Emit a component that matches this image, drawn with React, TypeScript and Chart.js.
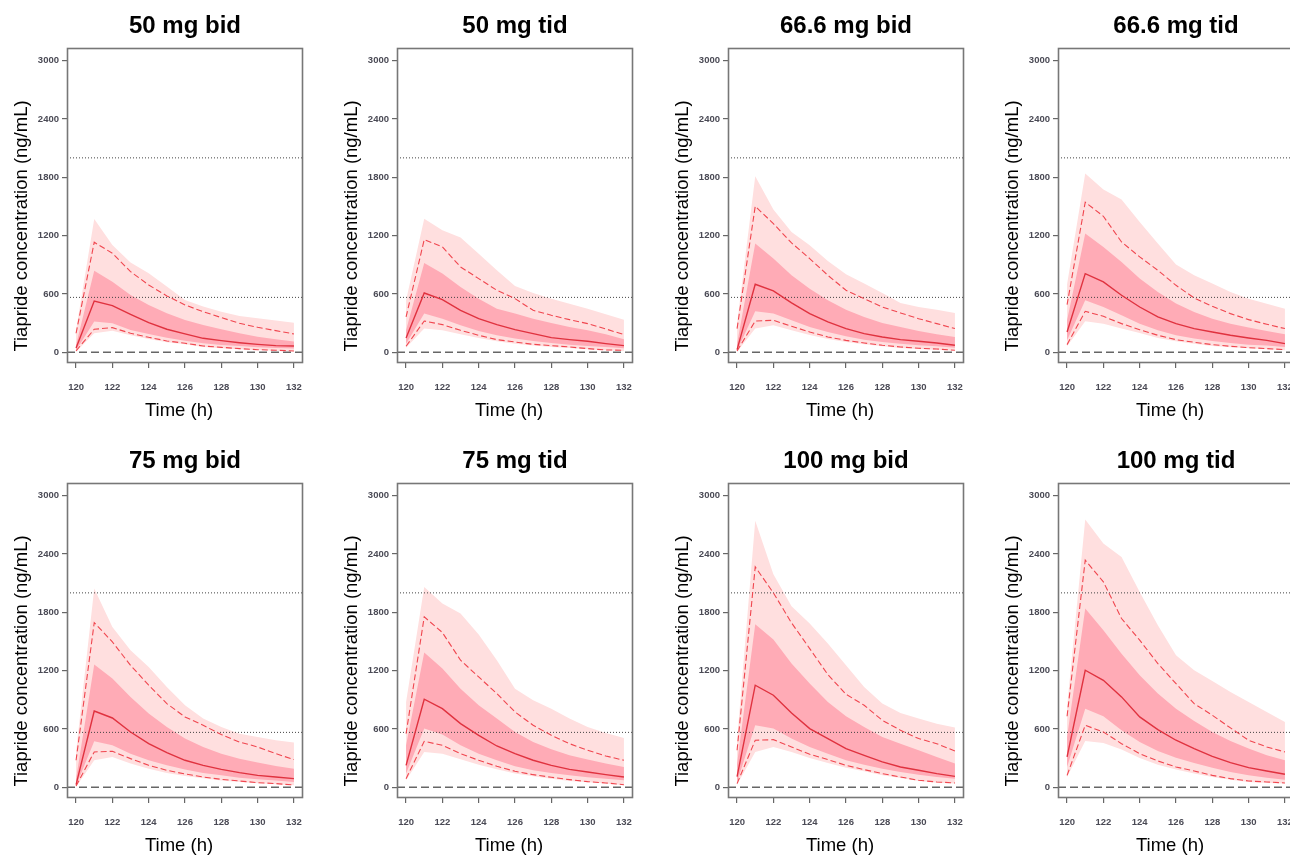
import React, { useEffect, useRef } from "react";
import { Chart, registerables } from "chart.js";

Chart.register(...registerables);

// ---------- shared axes ----------
const times = [120, 121, 122, 123, 124, 125, 126, 127, 128, 129, 130, 131, 132];
const xTickValues = [120, 122, 124, 126, 128, 130, 132];
const yTickValues = [0, 600, 1200, 1800, 2400, 3000];
const dottedRefLevels = [2000, 565];
const dashedRefLevel = 0;
const xTitle = "Time (h)";
const yTitle = "Tiapride concentration (ng/mL)";

// ---------- 50 mg bid ----------
const bid50OuterUp = [230, 1372, 1104, 923, 813, 676, 539, 470, 418, 374, 350, 326, 305];
const bid50DashUp = [196, 1132, 1019, 830, 693, 580, 487, 418, 357, 298, 257, 223, 189];
const bid50InnerUp = [75, 840, 727, 590, 487, 401, 333, 281, 237, 196, 161, 134, 110];
const bid50Median = [45, 528, 480, 391, 305, 237, 189, 144, 120, 99, 82, 69, 65];
const bid50InnerLo = [20, 316, 298, 230, 189, 151, 120, 93, 75, 65, 51, 45, 38];
const bid50DashLo = [15, 237, 254, 196, 154, 117, 93, 65, 51, 38, 27, 21, 14];
const bid50OuterLo = [5, 196, 223, 175, 137, 103, 82, 55, 41, 31, 24, 17, 10];

// ---------- 50 mg tid ----------
const tid50OuterUp = [535, 1375, 1255, 1180, 1015, 844, 683, 610, 552, 500, 449, 391, 336];
const tid50DashUp = [364, 1159, 1084, 878, 758, 638, 552, 432, 381, 336, 295, 240, 182];
const tid50InnerUp = [226, 919, 810, 672, 552, 449, 398, 346, 302, 260, 226, 185, 135];
const tid50Median = [147, 610, 542, 432, 346, 285, 233, 192, 151, 130, 113, 89, 69];
const tid50InnerLo = [89, 398, 346, 278, 220, 175, 141, 117, 96, 79, 65, 55, 41];
const tid50DashLo = [62, 322, 285, 226, 175, 130, 106, 82, 69, 55, 38, 24, 21];
const tid50OuterLo = [48, 244, 226, 185, 147, 113, 89, 69, 55, 45, 31, 21, 14];

// ---------- 66.6 mg bid ----------
const bid66OuterUp = [295, 1811, 1468, 1238, 1101, 940, 803, 707, 610, 508, 466, 439, 405];
const bid66DashUp = [244, 1502, 1324, 1125, 964, 792, 638, 552, 466, 405, 346, 295, 244];
const bid66InnerUp = [89, 1118, 964, 792, 655, 535, 439, 364, 302, 261, 220, 185, 158];
const bid66Median = [27, 700, 631, 508, 398, 312, 244, 192, 158, 130, 113, 96, 72];
const bid66InnerLo = [18, 422, 398, 329, 261, 209, 165, 130, 106, 89, 72, 62, 48];
const bid66DashLo = [14, 322, 329, 268, 209, 158, 123, 96, 72, 55, 41, 34, 21];
const bid66OuterLo = [6, 244, 278, 226, 178, 137, 106, 82, 62, 45, 34, 27, 17];

// ---------- 66.6 mg tid ----------
const tid66OuterUp = [700, 1838, 1674, 1571, 1341, 1118, 902, 792, 707, 621, 552, 500, 449];
const tid66DashUp = [490, 1544, 1399, 1135, 981, 844, 689, 559, 473, 398, 336, 288, 244];
const tid66InnerUp = [329, 1221, 1084, 930, 758, 621, 501, 415, 346, 295, 254, 220, 185];
const tid66Median = [209, 809, 724, 587, 466, 364, 295, 244, 209, 175, 147, 123, 89];
const tid66InnerLo = [123, 535, 466, 381, 295, 226, 175, 141, 117, 96, 79, 69, 55];
const tid66DashLo = [79, 422, 370, 295, 233, 175, 130, 103, 79, 62, 48, 38, 27];
const tid66OuterLo = [62, 319, 295, 244, 199, 147, 113, 89, 65, 51, 41, 31, 21];

// ---------- 75 mg bid ----------
const bid75OuterUp = [364, 2044, 1650, 1410, 1238, 1032, 844, 707, 621, 552, 518, 484, 460];
const bid75DashUp = [278, 1694, 1495, 1255, 1050, 861, 724, 638, 542, 466, 415, 346, 285];
const bid75InnerUp = [89, 1262, 1118, 930, 758, 621, 501, 415, 346, 295, 254, 220, 192];
const bid75Median = [27, 785, 713, 569, 449, 357, 278, 226, 185, 151, 123, 106, 89];
const bid75InnerLo = [18, 473, 432, 346, 278, 226, 182, 147, 123, 99, 82, 69, 55];
const bid75DashLo = [14, 364, 370, 295, 226, 175, 137, 106, 82, 65, 48, 38, 24];
const bid75OuterLo = [6, 278, 312, 244, 192, 147, 117, 93, 69, 55, 41, 31, 21];

// ---------- 75 mg tid ----------
const tid75OuterUp = [878, 2061, 1890, 1787, 1571, 1307, 1015, 895, 809, 707, 621, 559, 508];
const tid75DashUp = [552, 1753, 1592, 1307, 1135, 964, 775, 638, 535, 449, 381, 322, 278];
const tid75InnerUp = [432, 1386, 1221, 1015, 844, 707, 569, 466, 391, 329, 285, 244, 209];
const tid75Median = [226, 906, 809, 655, 535, 425, 346, 278, 226, 185, 158, 130, 106];
const tid75InnerLo = [141, 604, 542, 432, 346, 278, 216, 175, 147, 123, 103, 89, 72];
const tid75DashLo = [89, 473, 432, 346, 278, 216, 165, 130, 103, 79, 58, 45, 27];
const tid75OuterLo = [72, 364, 346, 288, 233, 185, 141, 113, 89, 65, 51, 38, 21];

// ---------- 100 mg bid ----------
const bid100OuterUp = [484, 2741, 2192, 1862, 1684, 1478, 1255, 1032, 861, 765, 707, 655, 614];
const bid100DashUp = [381, 2267, 2000, 1691, 1427, 1159, 957, 844, 689, 587, 501, 449, 374];
const bid100InnerUp = [243, 1677, 1520, 1273, 1067, 878, 731, 621, 518, 449, 381, 312, 244];
const bid100Median = [110, 1050, 947, 765, 604, 501, 398, 329, 261, 209, 175, 141, 113];
const bid100InnerLo = [55, 638, 604, 501, 415, 346, 278, 233, 192, 158, 130, 106, 89];
const bid100DashLo = [38, 484, 490, 415, 340, 285, 226, 182, 141, 106, 72, 55, 45];
const bid100OuterLo = [27, 364, 415, 364, 302, 250, 202, 165, 123, 96, 65, 48, 38];

// ---------- 100 mg tid ----------
const tid100OuterUp = [827, 2754, 2507, 2370, 2010, 1667, 1358, 1204, 1094, 981, 878, 775, 672];
const tid100DashUp = [731, 2336, 2113, 1736, 1513, 1273, 1067, 861, 741, 611, 484, 415, 364];
const tid100InnerUp = [518, 1838, 1616, 1375, 1152, 964, 809, 683, 569, 477, 398, 329, 278];
const tid100Median = [312, 1204, 1101, 930, 724, 593, 484, 398, 319, 254, 202, 168, 134];
const tid100InnerLo = [209, 809, 731, 587, 466, 374, 305, 250, 202, 158, 123, 99, 79];
const tid100DashLo = [123, 638, 569, 449, 346, 271, 209, 168, 123, 89, 65, 55, 45];
const tid100OuterLo = [106, 477, 456, 388, 302, 233, 182, 141, 106, 79, 55, 45, 38];

type PanelData = {
  title: string;
  outerUp: number[];
  dashUp: number[];
  innerUp: number[];
  median: number[];
  innerLo: number[];
  dashLo: number[];
  outerLo: number[];
};

const panels: PanelData[] = [
  { title: "50 mg bid", outerUp: bid50OuterUp, dashUp: bid50DashUp, innerUp: bid50InnerUp, median: bid50Median, innerLo: bid50InnerLo, dashLo: bid50DashLo, outerLo: bid50OuterLo },
  { title: "50 mg tid", outerUp: tid50OuterUp, dashUp: tid50DashUp, innerUp: tid50InnerUp, median: tid50Median, innerLo: tid50InnerLo, dashLo: tid50DashLo, outerLo: tid50OuterLo },
  { title: "66.6 mg bid", outerUp: bid66OuterUp, dashUp: bid66DashUp, innerUp: bid66InnerUp, median: bid66Median, innerLo: bid66InnerLo, dashLo: bid66DashLo, outerLo: bid66OuterLo },
  { title: "66.6 mg tid", outerUp: tid66OuterUp, dashUp: tid66DashUp, innerUp: tid66InnerUp, median: tid66Median, innerLo: tid66InnerLo, dashLo: tid66DashLo, outerLo: tid66OuterLo },
  { title: "75 mg bid", outerUp: bid75OuterUp, dashUp: bid75DashUp, innerUp: bid75InnerUp, median: bid75Median, innerLo: bid75InnerLo, dashLo: bid75DashLo, outerLo: bid75OuterLo },
  { title: "75 mg tid", outerUp: tid75OuterUp, dashUp: tid75DashUp, innerUp: tid75InnerUp, median: tid75Median, innerLo: tid75InnerLo, dashLo: tid75DashLo, outerLo: tid75OuterLo },
  { title: "100 mg bid", outerUp: bid100OuterUp, dashUp: bid100DashUp, innerUp: bid100InnerUp, median: bid100Median, innerLo: bid100InnerLo, dashLo: bid100DashLo, outerLo: bid100OuterLo },
  { title: "100 mg tid", outerUp: tid100OuterUp, dashUp: tid100DashUp, innerUp: tid100InnerUp, median: tid100Median, innerLo: tid100InnerLo, dashLo: tid100DashLo, outerLo: tid100OuterLo },
];

const FONT = '"Liberation Sans", Arial, Helvetica, sans-serif';
const OUTER_FILL = "#FFDFDF";
const INNER_FILL = "#FFABB6";
const MEDIAN_COLOR = "#E0323F";
const DASH_COLOR = "#F0464F";
const REF_COLOR = "#444444";

const CANVAS_W = 330;
const CANVAS_H = 430;
const colLefts = [1, 331, 662, 992];
const rowTops = [0, 435];

const X_MIN = 119.5;
const X_MAX = 132.5;
const Y_MIN = -110;
const Y_MAX = 3130;

const pts = (vals: number[]) => vals.map((v, i) => ({ x: times[i], y: v }));
const flat = (level: number) => [
  { x: X_MIN, y: level },
  { x: X_MAX, y: level },
];

const framePlugin = {
  id: "panelFrame",
  afterDatasetsDraw(chart: any) {
    const { ctx, chartArea } = chart;
    ctx.save();
    ctx.strokeStyle = "#777777";
    ctx.lineWidth = 1.6;
    ctx.strokeRect(
      chartArea.left + 0.5,
      chartArea.top + 0.5,
      chartArea.right - chartArea.left - 1,
      chartArea.bottom - chartArea.top - 1
    );
    ctx.restore();
  },
};

const axisTitlePlugin = {
  id: "axisTitles",
  afterDraw(chart: any) {
    const { ctx, chartArea } = chart;
    ctx.save();
    ctx.fillStyle = "#000";
    ctx.font = `18.5px ${FONT}`;
    ctx.textAlign = "center";
    ctx.textBaseline = "middle";
    ctx.fillText(xTitle, (chartArea.left + chartArea.right) / 2 - 6, chartArea.bottom + 47.5);
    ctx.translate(21, chartArea.top + 178);
    ctx.rotate(-Math.PI / 2);
    ctx.fillText(yTitle, 0, 0);
    ctx.restore();
  },
};

function buildConfig(p: PanelData): any {
  const band = (data: number[], color: string, fill: any, order: number) => ({
    data: pts(data),
    borderWidth: 0,
    borderColor: "transparent",
    backgroundColor: color,
    fill,
    pointRadius: 0,
    order,
  });
  const line = (data: any[], color: string, width: number, dash: number[], order: number) => ({
    data,
    borderColor: color,
    borderWidth: width,
    borderDash: dash,
    fill: false,
    pointRadius: 0,
    order,
  });
  return {
    type: "line",
    data: {
      datasets: [
        band(p.outerLo, OUTER_FILL, false, 20),
        band(p.outerUp, OUTER_FILL, "-1", 20),
        band(p.innerLo, INNER_FILL, false, 15),
        band(p.innerUp, INNER_FILL, "-1", 15),
        line(flat(dottedRefLevels[0]), REF_COLOR, 1, [1, 2], 8),
        line(flat(dottedRefLevels[1]), REF_COLOR, 1, [1, 2], 8),
        line(flat(dashedRefLevel), "#666666", 1.5, [8, 4], 8),
        line(pts(p.dashUp), DASH_COLOR, 1.1, [6, 3], 3),
        line(pts(p.dashLo), DASH_COLOR, 1.1, [6, 3], 3),
        line(pts(p.median), MEDIAN_COLOR, 1.4, [], 1),
      ],
    },
    options: {
      animation: false,
      responsive: false,
      maintainAspectRatio: false,
      events: [],
      layout: { padding: { left: 0, right: 28, top: 0, bottom: 0 } },
      elements: { line: { tension: 0 }, point: { radius: 0 } },
      plugins: {
        legend: { display: false },
        tooltip: { enabled: false },
        title: {
          display: true,
          text: p.title,
          fullSize: false,
          color: "#000",
          font: { family: FONT, size: 24, weight: "bold", lineHeight: 1.2 },
          padding: { top: 11.7, bottom: 7.5 },
        },
      },
      scales: {
        x: {
          type: "linear",
          min: X_MIN,
          max: X_MAX,
          afterBuildTicks: (s: any) => {
            s.ticks = xTickValues.map((v) => ({ value: v }));
          },
          afterFit: (s: any) => {
            s.height = 67;
          },
          grid: { drawOnChartArea: false, drawTicks: true, tickLength: 5, color: "#666", lineWidth: 1.2 },
          border: { display: false },
          ticks: {
            padding: 14,
            autoSkip: false,
            maxRotation: 0,
            color: "#4a4a55",
            font: { family: FONT, size: 9.5, weight: "bold" },
            callback: (v: any) => String(v),
          },
        },
        y: {
          type: "linear",
          min: Y_MIN,
          max: Y_MAX,
          afterBuildTicks: (s: any) => {
            s.ticks = yTickValues.map((v) => ({ value: v }));
          },
          afterFit: (s: any) => {
            s.width = 66;
          },
          grid: { drawOnChartArea: false, drawTicks: true, tickLength: 5, color: "#666", lineWidth: 1.2 },
          border: { display: false },
          ticks: {
            padding: 3,
            autoSkip: false,
            color: "#4a4a55",
            font: { family: FONT, size: 9.5, weight: "bold" },
            callback: (v: any) => String(v),
          },
        },
      },
    },
    plugins: [framePlugin, axisTitlePlugin],
  };
}

function Panel({ p, left, top }: { p: PanelData; left: number; top: number }) {
  const ref = useRef<HTMLCanvasElement>(null);
  useEffect(() => {
    if (!ref.current) return;
    const chart = new Chart(ref.current, buildConfig(p));
    return () => chart.destroy();
  }, [p]);
  return (
    <canvas
      ref={ref}
      width={CANVAS_W}
      height={CANVAS_H}
      style={{ position: "absolute", left, top, width: CANVAS_W, height: CANVAS_H }}
    />
  );
}

export default function App() {
  return (
    <div
      style={{
        position: "absolute",
        left: 0,
        top: 0,
        width: 1290,
        height: 858,
        overflow: "hidden",
        background: "#fff",
      }}
    >
      {panels.map((p, i) => (
        <Panel key={p.title} p={p} left={colLefts[i % 4]} top={rowTops[Math.floor(i / 4)]} />
      ))}
    </div>
  );
}
